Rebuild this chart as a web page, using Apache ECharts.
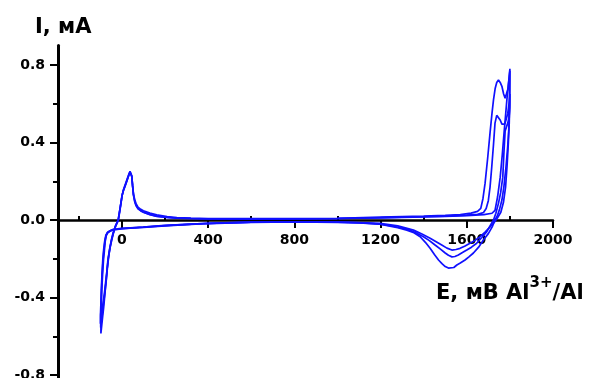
<!DOCTYPE html>
<html>
<head>
<meta charset="utf-8">
<script src="https://cdn.jsdelivr.net/npm/echarts@6/dist/echarts.min.js"></script>
<style>
  html, body { margin: 0; padding: 0; background: #fff; }
  #chart { width: 595px; height: 378px; }
</style>
</head>
<body>
<div id="chart"></div>
<script>
// Cyclic voltammogram: three cycles, each a list of [E (mV vs Al3+/Al), I (mA)]
const cycle1 = [
  [-97,-0.585],[-90,-0.51],[-84,-0.45],[-80,-0.4],[-76,-0.35],[-70,-0.28],[-65,-0.21],[-59,-0.17],[-54,-0.14],
  [-46,-0.1],[-39,-0.069],[-28,-0.03],[-16,0.0],[-6,0.07],[2,0.13],[7,0.155],[15,0.18],[23,0.206],[32,0.235],
  [38,0.252],[42,0.26],[46,0.23],[50,0.18],[54,0.135],[60,0.105],[66,0.085],[75,0.066],[88,0.055],[100,0.048],
  [130,0.036],[162,0.027],[210,0.018],[255,0.013],[320,0.01],[400,0.008],[600,0.007],[800,0.007],[1000,0.009],
  [1200,0.015],[1400,0.02],[1500,0.024],[1570,0.028],[1620,0.036],[1650,0.045],[1665,0.06],[1675,0.11],
  [1685,0.19],[1697,0.32],[1708,0.45],[1717,0.55],[1724,0.62],[1732,0.68],[1739,0.71],[1747,0.723],[1755,0.71],
  [1763,0.69],[1771,0.65],[1778,0.628],[1786,0.63],[1792,0.68],[1797,0.74],[1800,0.78],
  [1799,0.66],[1798,0.56],[1795,0.47],[1790,0.38],[1782,0.275],[1772,0.17],[1763,0.103],[1752,0.055],
  [1742,0.022],[1731,0.0],[1718,-0.035],[1700,-0.07],[1677,-0.103],[1655,-0.14],[1631,-0.17],[1610,-0.19],
  [1592,-0.206],[1570,-0.222],[1554,-0.232],[1540,-0.245],[1531,-0.25],[1515,-0.248],[1500,-0.24],[1485,-0.225],
  [1469,-0.206],[1450,-0.178],[1430,-0.146],[1408,-0.115],[1384,-0.086],[1355,-0.066],[1322,-0.052],[1280,-0.04],
  [1244,-0.031],[1198,-0.021],[1100,-0.015],[1000,-0.012],[800,-0.01],[600,-0.012],[400,-0.018],[300,-0.024],
  [200,-0.03],[100,-0.038],[0,-0.045],[-20,-0.048],[-39,-0.05],[-55,-0.058],[-65,-0.066],[-72,-0.08],
  [-77,-0.11],[-81,-0.16],[-85,-0.206],[-89,-0.28],[-93,-0.36],[-95,-0.43],[-97,-0.5],[-97,-0.585]
];

const cycle2 = [
  [-99,-0.535],[-92,-0.47],[-86,-0.42],[-80,-0.37],[-74,-0.31],[-68,-0.25],[-62,-0.19],[-56,-0.145],[-48,-0.1],
  [-40,-0.066],[-29,-0.03],[-17,0.0],[-7,0.068],[1,0.125],[7,0.15],[15,0.175],[23,0.2],[32,0.23],[38,0.247],
  [42,0.255],[46,0.225],[50,0.175],[54,0.13],[60,0.095],[66,0.075],[75,0.058],[88,0.047],[100,0.04],[130,0.028],
  [162,0.019],[210,0.013],[255,0.01],[320,0.008],[400,0.006],[600,0.005],[800,0.006],[1000,0.008],[1200,0.012],
  [1400,0.017],[1500,0.02],[1600,0.025],[1650,0.03],[1677,0.038],[1690,0.06],[1700,0.1],[1708,0.17],[1716,0.275],
  [1724,0.39],[1731,0.5],[1739,0.54],[1747,0.535],[1755,0.516],[1763,0.495],[1770,0.485],[1776,0.495],
  [1782,0.516],[1790,0.55],[1796,0.6],[1800,0.65],
  [1799,0.58],[1796,0.53],[1790,0.5],[1778,0.46],[1772,0.34],[1767,0.22],[1757,0.14],[1747,0.086],[1735,0.035],
  [1724,0.0],[1708,-0.03],[1693,-0.06],[1670,-0.09],[1646,-0.12],[1622,-0.14],[1600,-0.155],[1580,-0.168],
  [1561,-0.18],[1545,-0.188],[1531,-0.19],[1515,-0.182],[1500,-0.17],[1478,-0.15],[1453,-0.129],[1425,-0.105],
  [1399,-0.086],[1360,-0.063],[1322,-0.047],[1260,-0.032],[1198,-0.021],[1100,-0.014],[1000,-0.011],[800,-0.009],
  [600,-0.011],[400,-0.017],[300,-0.022],[200,-0.028],[100,-0.036],[0,-0.043],[-20,-0.046],[-39,-0.048],
  [-55,-0.055],[-66,-0.063],[-74,-0.078],[-79,-0.105],[-84,-0.15],[-88,-0.2],[-92,-0.28],[-95,-0.36],
  [-97,-0.43],[-99,-0.49],[-99,-0.535]
];

const cycle3 = [
  [-98,-0.555],[-91,-0.49],[-85,-0.43],[-79,-0.38],[-73,-0.32],[-67,-0.25],[-61,-0.19],[-55,-0.145],[-47,-0.1],
  [-40,-0.067],[-29,-0.03],[-17,0.0],[-7,0.068],[1,0.126],[7,0.151],[15,0.176],[23,0.2],[32,0.23],[38,0.248],
  [42,0.256],[46,0.226],[50,0.176],[54,0.13],[60,0.096],[66,0.076],[75,0.06],[88,0.049],[100,0.041],[130,0.029],
  [162,0.02],[210,0.014],[255,0.01],[320,0.008],[400,0.006],[600,0.005],[800,0.006],[1000,0.008],[1200,0.011],
  [1400,0.016],[1500,0.019],[1600,0.023],[1680,0.028],[1717,0.035],[1731,0.05],[1743,0.12],[1755,0.22],
  [1765,0.34],[1773,0.45],[1780,0.54],[1786,0.62],[1793,0.7],[1800,0.77],
  [1799,0.6],[1797,0.5],[1793,0.4],[1787,0.28],[1780,0.17],[1770,0.09],[1758,0.04],[1742,0.01],[1730,-0.008],
  [1708,-0.035],[1685,-0.062],[1662,-0.086],[1638,-0.105],[1615,-0.12],[1590,-0.135],[1569,-0.146],[1550,-0.152],
  [1531,-0.155],[1508,-0.145],[1484,-0.129],[1458,-0.112],[1430,-0.094],[1392,-0.072],[1353,-0.052],[1280,-0.03],
  [1198,-0.017],[1100,-0.013],[1000,-0.01],[800,-0.009],[600,-0.011],[400,-0.017],[300,-0.022],[200,-0.029],
  [100,-0.037],[0,-0.044],[-20,-0.047],[-39,-0.049],[-55,-0.056],[-66,-0.064],[-73,-0.079],[-78,-0.107],
  [-83,-0.155],[-87,-0.205],[-91,-0.28],[-94,-0.36],[-96,-0.43],[-98,-0.5],[-98,-0.555]
];

// Axis ticks and labels
const xMajorTicks = [0, 400, 800, 1200, 1600, 2000];
const xMinorTicks = [-200, 200, 600, 1000, 1400, 1800];
const yMajorTicks = [-0.8, -0.4, 0, 0.4, 0.8];
const yMinorTicks = [-0.6, -0.2, 0.2, 0.6];

const FONT = 'DejaVu Sans';
const LINE_BLUE = '#1010ff';

const W = 595, H = 378;
const GRID = { left: 58, right: 42, top: 45.6, bottom: 0 };
const xRange = { min: -296, max: 2000 };
const yRange = { min: -0.815, max: 0.9 };

// pixel row of I = 0 inside the grid; the label-only x axis is shifted up to it
const plotH = H - GRID.top - GRID.bottom;
const zeroRow = GRID.top + plotH * yRange.max / (yRange.max - yRange.min);
const labelAxisOffset = -((H - GRID.bottom) - zeroRow);

const chart = echarts.init(document.getElementById('chart'), null, { renderer: 'canvas' });

chart.setOption({
  animation: false,
  backgroundColor: '#ffffff',
  title: [
    {
      text: 'I, мА',
      left: 30, top: 12,
      textStyle: { fontFamily: FONT, fontWeight: 'bold', fontSize: 21, color: '#000' }
    },
    {
      text: 'E, мВ Al{sup|3+}/Al',
      left: 431, top: 271,
      textStyle: {
        fontFamily: FONT, fontWeight: 'bold', fontSize: 21, color: '#000', lineHeight: 36,
        rich: {
          sup: { fontFamily: FONT, fontWeight: 'bold', fontSize: 15, color: '#000', verticalAlign: 'top', lineHeight: 16 }
        }
      }
    }
  ],
  grid: Object.assign({ containLabel: false, outerBoundsMode: 'none' }, GRID),
  xAxis: [
    {
      // main axis line with major ticks, crossing at I = 0
      type: 'value', min: xRange.min, max: xRange.max,
      axisLine: { onZero: true, lineStyle: { color: '#000', width: 2.5 } },
      axisTick: { show: true, customValues: xMajorTicks, length: 8, lineStyle: { color: '#000', width: 2 } },
      axisLabel: { show: false },
      splitLine: { show: false }
    },
    {
      // minor ticks
      type: 'value', min: xRange.min, max: xRange.max,
      axisLine: { show: false, onZero: true },
      axisTick: { show: true, customValues: xMinorTicks, length: 4, lineStyle: { color: '#000', width: 2 } },
      axisLabel: { show: false },
      splitLine: { show: false }
    },
    {
      // tick labels placed just under the I = 0 line
      type: 'value', min: xRange.min, max: xRange.max, position: 'bottom',
      offset: labelAxisOffset,
      axisLine: { show: false, onZero: false },
      axisTick: { show: false },
      axisLabel: {
        customValues: xMajorTicks, margin: 13,
        formatter: v => String(v),
        fontFamily: FONT, fontWeight: 'bold', fontSize: 14, color: '#000'
      },
      splitLine: { show: false }
    }
  ],
  yAxis: [
    {
      type: 'value', min: yRange.min, max: yRange.max, position: 'left',
      axisLine: { show: true, onZero: false, lineStyle: { color: '#000', width: 3 } },
      axisTick: { show: true, customValues: yMajorTicks, length: 8, lineStyle: { color: '#000', width: 2 } },
      axisLabel: {
        customValues: yMajorTicks, margin: 13,
        formatter: v => v.toFixed(1),
        fontFamily: FONT, fontWeight: 'bold', fontSize: 14, color: '#000'
      },
      splitLine: { show: false }
    },
    {
      type: 'value', min: yRange.min, max: yRange.max, position: 'left',
      axisLine: { show: false, onZero: false },
      axisTick: { show: true, customValues: yMinorTicks, length: 5, lineStyle: { color: '#000', width: 2 } },
      axisLabel: { show: false },
      splitLine: { show: false }
    }
  ],
  series: [cycle1, cycle2, cycle3].map((d, i) => ({
    name: 'cycle ' + (i + 1),
    type: 'line',
    xAxisIndex: 0,
    yAxisIndex: 0,
    data: d,
    showSymbol: false,
    smooth: false,
    lineStyle: { color: LINE_BLUE, width: 1.7 },
    z: 3
  }))
});
</script>
</body>
</html>
